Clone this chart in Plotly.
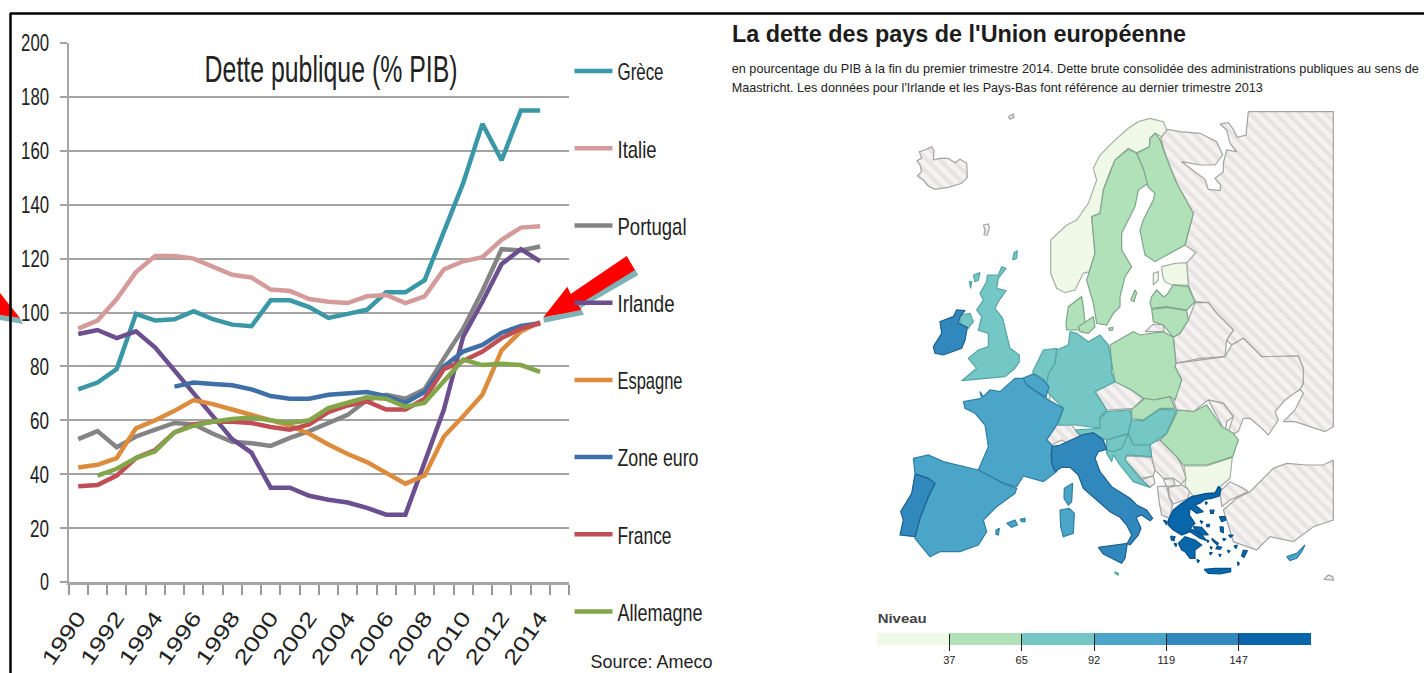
import json
import plotly.graph_objects as go

W, H = 1424, 673
YEARS = list(range(1990, 2015))
TICK_YEARS = list(range(1990, 2015, 2))
GRECE = [71.5,74,79,99.5,97,97.5,100.5,97.5,95.5,94.9,104.5,104.5,102,98,99.5,101,107.5,107.5,112,129.5,148,170,156.5,175,175]
ITALIE = [94,97,105,115,121,121,120,117,114,113,108.5,108,105,104,103.5,106,106.5,103.5,106,116,119,120.5,127,131.5,132]
PORTUGAL = [53,56,50,54,56.5,59,58.5,55,52,51.5,50.5,53.5,56,59,62,67.5,69.5,68,71.5,83,94,108,123.5,123,124.5]
IRLANDE = [92,93.5,90.5,93,87,78.5,70.5,62,53,48,35,35,32,30.5,29.5,27.5,25,25,44,64,91,104,118,123.5,119]
ESPAGNE = [42.5,43.5,46,57,60,63.5,67.5,66,64,62,60,58,55,51,47.5,44.5,40.5,36.5,39.5,54,61.5,69.5,86,93,96.5]
ZONE_EURO = [None]*5 + [72.5,74,73.5,73,71.5,69,68,68,69.5,70,70.5,69,66.5,70.5,80,85.5,88,92.5,95,96]
FRANCE = [35.5,36,39.5,46,49,55.5,58.5,59.5,59.5,59,57.5,56.5,58.5,63,65.5,67,64,64,68,79,82,85.5,90.5,94,96]
ALLEMAGNE = [None,39.5,42,46,48.5,55.5,58,59.5,60.5,61,60,59,60,64.5,66.5,68.5,68,65,66.5,74.5,82.5,80.5,81,80.5,78]

SERIES = [("Grèce",GRECE,"#3a97a6"),("Italie",ITALIE,"#d59b9b"),("Portugal",PORTUGAL,"#848484"),
          ("Irlande",IRLANDE,"#6b4f8e"),("Espagne",ESPAGNE,"#dd8b3c"),("Zone euro",ZONE_EURO,"#3e6fa6"),
          ("France",FRANCE,"#bf4f55"),("Allemagne",ALLEMAGNE,"#83a64a")]

# Map outlines, in map units
HATCHED = {
 "Jan Mayen":[(385,50),(400,42),(402,52),(390,58)],
 "Iceland":[(110,182),(125,175),(118,155),(135,150),(155,140),(162,152),(160,180),(180,175),(205,175),(225,188),(240,178),(260,190),(262,232),(245,250),(205,262),(165,268),(145,258),(130,240),(112,228),(125,215),(120,195)],
 "Faroe":[(310,375),(325,372),(328,385),(322,405),(312,405),(315,390)],
 "Russia":[(1105,35),(1098,105),(1072,112),(1058,85),(1045,68),(1020,72),(1040,90),(1050,130),(1070,155),(1040,150),(1030,190),(1030,215),(1005,235),(1022,255),(1020,272),(985,268),(975,238),(930,205),(905,185),(960,195),(1005,195),(1028,165),(1010,125),(960,100),(900,95),(862,88),(842,115),(860,175),(890,250),(940,340),(915,435),(948,458),(920,488),(925,555),(945,605),(985,608),(1010,640),(1060,690),(1040,720),(1055,735),(1090,715),(1145,770),(1255,768),(1270,805),(1270,850),(1260,868),(1270,880),(1245,930),(1210,965),(1245,965),(1335,995),(1360,980),(1360,35)],
 "Kaliningrad":[(795,695),(820,672),(850,675),(852,695)],
 "Belarus":[(880,712),(900,700),(925,660),(945,608),(985,608),(1010,640),(1060,690),(1040,720),(1035,770),(960,775),(888,790)],
 "Ukraine":[(885,790),(1035,770),(1055,735),(1090,715),(1145,770),(1255,768),(1270,805),(1270,850),(1260,868),(1215,900),(1185,935),(1195,960),(1165,1005),(1140,980),(1110,955),(1090,955),(1075,995),(1040,1010),(1060,950),(1030,910),(985,900),(940,935),(890,930),(880,900),(905,840),(885,800)],
 "Moldova":[(985,900),(1030,910),(1060,950),(1040,965),(1035,1008),(1025,975)],
 "Czechia":[(645,875),(705,845),(755,870),(790,895),(760,925),(680,930)],
 "Switzerland":[(500,1018),(530,975),(575,975),(600,1008),(570,1035),(545,1020),(515,1035)],
 "Bosnia":[(740,1068),(815,1072),(825,1110),(820,1128),(785,1135),(735,1080)],
 "Serbia":[(810,1030),(840,1020),(890,1070),(905,1095),(918,1135),(905,1152),(880,1135),(850,1135),(825,1110),(815,1072)],
 "Montenegro":[(785,1138),(820,1128),(825,1150),(810,1162)],
 "Kosovo":[(850,1138),(880,1135),(885,1155),(860,1160)],
 "Macedonia":[(865,1162),(905,1155),(928,1170),(925,1195),(880,1212),(868,1190)],
 "Albania":[(832,1160),(860,1158),(868,1195),(878,1215),(868,1255),(845,1245),(838,1210)],
 "Turkey Thrace":[(1050,1145),(1090,1165),(1105,1175),(1050,1200),(1025,1220),(1020,1175)],
 "Turkey":[(1360,1080),(1330,1095),(1280,1095),(1220,1090),(1180,1105),(1140,1145),(1110,1175),(1070,1195),(1030,1230),(1040,1260),(1060,1325),(1130,1350),(1170,1310),(1240,1325),(1300,1280),(1360,1260)],
 "Syria corner":[(1332,1438),(1345,1425),(1358,1430),(1360,1440)],
}
LEVEL_1 = {
 "Norway":[(640,205),(660,165),(700,125),(745,85),(775,65),(810,55),(850,65),(860,90),(845,110),(825,100),(810,115),(810,140),(770,158),(745,145),(705,180),(690,215),(670,270),(660,340),(635,350),(645,460),(628,515),(610,520),(585,570),(555,578),(530,565),(512,520),(512,420),(560,375),(590,360),(625,310),(650,240)],
 "Estonia":[(845,500),(885,490),(920,488),(925,555),(875,555),(855,545),(848,530)],
 "Saaremaa":[(820,520),(835,515),(835,540),(820,555)],
 "Bulgaria":[(912,1098),(980,1098),(1057,1072),(1050,1135),(1020,1160),(1010,1175),(940,1190),(915,1155),(918,1135)],
 "Luxembourg":[(498,880),(508,878),(510,897),(500,897)],
}
LEVEL_2 = {
 "Sweden":[(745,148),(770,160),(790,205),(805,250),(775,270),(765,320),(725,400),(725,450),(755,500),(735,530),(720,590),(720,620),(700,640),(680,675),(650,670),(640,610),(620,540),(628,515),(645,460),(635,350),(660,340),(670,270),(690,215),(705,180)],
 "Gotland":[(752,600),(765,570),(770,578),(762,605)],
 "Finland":[(808,140),(810,115),(825,100),(838,115),(860,175),(890,250),(940,340),(915,435),(825,485),(795,465),(780,390),(790,360),(820,300),(825,280),(805,262),(790,205),(770,160)],
 "Latvia":[(815,590),(830,570),(850,590),(860,585),(880,555),(925,560),(945,605),(920,630),(860,620),(815,625),(810,610)],
 "Lithuania":[(815,628),(860,622),(920,632),(925,660),(900,700),(880,712),(850,675),(820,665)],
 "Denmark":[(558,670),(565,620),(605,590),(610,620),(615,670),(600,690),(560,690)],
 "Zealand":[(595,680),(640,650),(645,680),(625,700),(600,695)],
 "Bornholm":[(685,685),(698,682),(698,690),(690,692)],
 "Poland":[(690,735),(760,695),(780,705),(850,695),(880,712),(888,790),(885,800),(905,840),(885,900),(870,890),(820,900),(790,895),(755,870),(705,845),(695,790)],
 "Slovakia":[(755,928),(795,895),(825,900),(870,890),(885,925),(840,925),(790,960),(755,955)],
 "Romania":[(895,930),(940,935),(980,915),(1025,980),(1060,1000),(1075,1020),(1058,1070),(980,1095),(910,1095),(890,1070),(840,1020),(860,1000)],
}
LEVEL_3 = {
 "Shetland":[(398,480),(402,458),(412,452),(410,475)],
 "Hebrides":[(280,525),(300,518),(295,540),(285,545)],
 "Lewis":[(268,545),(275,545),(272,565)],
 "Great Britain":[(322,525),(355,525),(365,500),(378,505),(355,535),(350,565),(378,572),(355,605),(345,625),(368,655),(390,745),(418,765),(418,785),(405,805),(375,830),(310,835),(245,842),(290,805),(265,775),(295,750),(325,740),(325,700),(295,690),(305,650),(290,630),(310,600),(300,580),(320,545)],
 "Northern Ireland":[(240,645),(270,640),(280,665),(265,685),(240,670)],
 "Germany":[(570,695),(590,700),(625,725),(660,705),(685,735),(695,790),(695,820),(705,845),(645,875),(680,930),(660,950),(665,985),(585,975),(535,975),(550,925),(510,885),(498,865),(505,820),(525,790),(530,750),(565,735)],
 "Netherlands":[(458,815),(490,750),(530,745),(525,790),(505,822),(498,860),(490,835),(460,820)],
 "Austria":[(585,990),(660,985),(660,955),(680,935),(750,930),(755,955),(745,1000),(680,1020),(640,1000),(600,1005)],
 "Hungary":[(755,960),(790,962),(840,928),(890,930),(860,1000),(810,1035),(760,1035),(745,1000)],
 "Croatia":[(680,1020),(745,1002),(760,1035),(810,1035),(815,1070),(740,1065),(735,1080),(780,1135),(810,1162),(760,1145),(720,1095),(700,1065),(695,1085),(680,1060)],
 "Slovenia":[(680,1020),(745,1002),(725,1045),(700,1055),(680,1050)],
 "Malta":[(705,1415),(715,1420),(715,1426),(705,1420)],
}
LEVEL_4 = {
 "Belgium":[(428,835),(460,822),(490,840),(507,860),(497,892),(460,868),(440,855)],
 "France":[(250,905),(305,895),(300,875),(310,890),(330,870),(360,875),(405,835),(430,835),(440,855),(497,895),(550,925),(530,975),(500,1020),(520,1040),(510,1070),(530,1115),(490,1145),(430,1128),(410,1160),(370,1150),(295,1110),(325,1040),(315,975),(285,940),(255,925)],
 "Corsica":[(553,1165),(578,1150),(575,1205),(565,1215),(552,1195)],
 "Spain":[(100,1075),(145,1065),(190,1085),(295,1110),(370,1150),(410,1165),(405,1180),(350,1220),(310,1260),(320,1295),(295,1335),(240,1355),(180,1355),(150,1370),(125,1340),(105,1315),(120,1250),(145,1190),(165,1150),(145,1135),(105,1120)],
 "Majorca":[(380,1270),(405,1260),(412,1275),(395,1282)],
 "Minorca":[(420,1258),(435,1255),(435,1265),(425,1265)],
 "Ibiza":[(348,1290),(358,1285),(355,1305),(348,1303)],
 "Sardinia":[(540,1230),(568,1225),(583,1240),(580,1300),(550,1310),(542,1280)],
 "Cyprus":[(1220,1370),(1250,1360),(1275,1335),(1265,1355),(1250,1375),(1230,1382)],
}
LEVEL_5 = {
 "Ireland":[(160,740),(185,700),(180,665),(220,650),(230,630),(255,632),(240,650),(235,670),(262,682),(255,720),(245,745),(190,765),(165,760)],
 "Portugal":[(105,1122),(145,1135),(165,1150),(145,1190),(120,1255),(105,1310),(60,1305),(70,1260),(62,1235),(95,1180)],
 "Italy":[(515,1040),(540,1035),(585,1015),(605,1005),(640,998),(670,1020),(680,1048),(655,1055),(645,1075),(660,1115),(695,1160),(750,1195),(770,1215),(800,1230),(818,1255),(810,1262),(785,1245),(768,1252),(783,1285),(775,1305),(750,1335),(742,1330),(755,1305),(740,1275),(720,1252),(690,1235),(650,1200),(610,1165),(595,1125),(570,1102),(545,1102),(525,1115),(515,1090)],
 "Sicily":[(655,1342),(680,1338),(742,1330),(735,1375),(725,1390),(695,1375),(670,1362)],
}
LEVEL_6 = {
 "Greece":[(865,1260),(880,1230),(905,1210),(935,1190),(980,1180),(1005,1180),(1015,1160),(1023,1165),(1018,1188),(995,1195),(975,1198),(960,1210),(945,1215),(970,1235),(950,1240),(930,1225),(928,1245),(945,1270),(930,1285),(965,1305),(980,1322),(960,1315),(930,1295),(905,1305),(880,1290),(865,1275)],
 "Euboea":[(940,1280),(965,1282),(985,1305),(970,1305),(945,1290)],
 "Peloponnese":[(895,1330),(915,1310),(945,1320),(965,1335),(945,1350),(945,1375),(930,1375),(915,1355),(905,1350)],
 "Crete":[(972,1408),(1005,1405),(1052,1405),(1052,1415),(1020,1422),(985,1420)],
 "Thasos":[(975,1205),(982,1208),(978,1214)],
 "Limnos":[(990,1230),(1002,1230),(1000,1240),(992,1240)],
 "Lesbos":[(1018,1250),(1035,1250),(1038,1260),(1025,1265)],
 "Chios":[(1020,1280),(1030,1282),(1030,1298),(1022,1295)],
 "Samos":[(1045,1305),(1060,1305),(1052,1312)],
 "Ikaria":[(1028,1315),(1038,1317),(1032,1322)],
 "Skiathos":[(960,1262),(968,1265),(965,1270)],
 "Skyros":[(980,1273),(988,1273),(988,1280),(980,1280)],
 "Rhodes":[(1090,1350),(1102,1352),(1092,1372),(1085,1368)],
 "Karpathos":[(1072,1385),(1078,1390),(1074,1397)],
 "Naxos":[(1012,1338),(1025,1342),(1020,1348),(1008,1346)],
 "Sifnos":[(990,1340),(996,1342),(994,1348)],
 "Milos":[(988,1358),(996,1358),(992,1365)],
 "Santorini":[(1016,1362),(1023,1364),(1020,1370)],
 "Kos":[(1042,1350),(1050,1353),(1046,1358)],
 "Leros":[(1062,1338),(1072,1335),(1068,1345)],
 "Andros":[(995,1315),(1015,1330),(1012,1335),(998,1322)],
 "Kea":[(980,1320),(986,1322),(984,1328)],
 "Kefalonia":[(872,1308),(885,1310),(882,1322),(874,1320)],
 "Zakynthos":[(882,1330),(890,1332),(888,1340)],
 "Kythira":[(950,1378),(958,1382),(954,1388)],
 "Corfu":[(850,1260),(862,1265),(860,1275)],
}
MAP_LAYERS = [(HATCHED,None,"#a3a3a3"),(LEVEL_1,"#f0f9e8","#a3b0a3"),(LEVEL_2,"#b1e1b9","#7fa489"),
              (LEVEL_3,"#74c7c4","#56a5a5"),(LEVEL_4,"#4ba5c9","#2f7fa3"),(LEVEL_5,"#3188bd","#1d5f8f"),
              (LEVEL_6,"#0a66ab","#04508a")]

SCALE_COLORS = ["#f0f9e8","#b1e1b9","#74c7c4","#4ba5c9","#3188bd","#0a66ab"]
SCALE_LABELS = ["37","65","92","119","147"]

# Drawn text widths (the source chart was stretched: tall, narrow lettering)
LINE1 = "en pourcentage du PIB à la fin du premier trimestre 2014. Dette brute consolidée des administrations publiques au sens de"
LINE2 = "Maastricht. Les données pour l'Irlande et les Pays-Bas font référence au dernier trimestre 2013"
TEXT_WIDTHS = {"Grèce":46,"Italie":39,"Portugal":69,"Irlande":57,"Espagne":65,"Zone euro":81,"France":54,"Allemagne":85,
               "Dette publique (% PIB)":253,"Source: Ameco":122,LINE1:687,LINE2:531,"Niveau":49,
               "La dette des pays de l'Union européenne":454,"0":9}
TEXT_WIDTHS.update({str(v):19 for v in (20,40,60,80)})
TEXT_WIDTHS.update({str(v):28 for v in (100,120,140,160,180,200)})
TEXT_WIDTHS.update({str(v):60 for v in TICK_YEARS})

SANS = "Liberation Sans"
def px(x): return x / W
def py(y): return 1 - y / H

fig = go.Figure()
for name, vals, col in SERIES:
    fig.add_trace(go.Scatter(x=YEARS, y=vals, name=name, mode="lines", legendgroup=name,
                             line=dict(color=col, width=4.5)))

for outlines, fill, edge in MAP_LAYERS:
    for name, pts in outlines.items():
        kw = dict(fillcolor=fill) if fill else dict(
            fillcolor="#f5f2f2",
            fillpattern=dict(shape="\\", size=9, solidity=0.45, fgcolor="#dbd3d3", bgcolor="#f5f2f2"))
        xs = [p[0] for p in pts] + [pts[0][0]]
        ys = [p[1] for p in pts] + [pts[0][1]]
        fig.add_trace(go.Scatter(x=xs, y=ys, xaxis="x2", yaxis="y2", mode="lines", fill="toself",
                                 line=dict(color=edge, width=1.2), showlegend=False, hoverinfo="text", text=name, **kw))

for c in SCALE_COLORS:
    fig.add_trace(go.Bar(x=[1], y=[0], orientation="h", xaxis="x3", yaxis="y3", width=1,
                         marker=dict(color=c, line=dict(width=0)), showlegend=False))

def poly(pts, color):
    path = "M " + " L ".join(f"{px(x):.5f},{py(y):.5f}" for x, y in pts) + " Z"
    return dict(type="path", xref="paper", yref="paper", path=path, fillcolor=color, line=dict(width=0), layer="above")

z2 = lambda x, y: (360 + x / 3, 220 + y / 3)
arrow_teal = [z2(*p) for p in [(552,308),(672,284),(662,265),(835,165),(825,148),(655,255),(665,270),(550,292)]]
arrow_red = [z2(*p) for p in [(550,292),(622,200),(632,222),(800,108),(825,150),(655,255),(665,270)]]
shapes = [poly(arrow_teal, "#7fb3b5"), poly(arrow_red, "#ff0000"),
          poly([(0,315),(20,318),(23,324),(0,320)], "#7fb3b5"), poly([(0,293),(20,318),(0,315)], "#ff0000"),
          dict(type="line", xref="paper", yref="paper", x0=px(10.5), x1=px(10.5), y0=0, y1=py(13), line=dict(color="#000", width=2.5)),
          dict(type="line", xref="paper", yref="paper", x0=px(10), x1=1, y0=py(13.5), y1=py(13.5), line=dict(color="#000", width=2.5))]

def note(text, x, y, size, color="#222", bold=False):
    return dict(text=f"<b>{text}</b>" if bold else text, xref="paper", yref="paper", x=px(x), y=py(y), xanchor="center",
                yanchor="middle", showarrow=False, font=dict(size=size, family=SANS, color=color))

annotations = [
    note("Dette publique (% PIB)", 331, 70, 36),
    note("Source: Ameco", 651, 661, 19),
    note("La dette des pays de l'Union européenne", 959, 34, 23.4, "#1c1c1c", bold=True),
    note(LINE1, 1075.5, 69, 12.2),
    note(LINE2, 997.5, 88, 12.2),
    note("Niveau", 901.5, 618, 13.5, "#444", bold=True),
]

fig.update_layout(
    width=W, height=H, margin=dict(l=0, r=0, t=0, b=0, autoexpand=False), paper_bgcolor="#fff", plot_bgcolor="rgba(0,0,0,0)",
    barmode="stack", shapes=shapes, annotations=annotations, font=dict(family=SANS, color="#222"),
    legend=dict(x=px(569.5), y=py(49), xanchor="left", yanchor="top", traceorder="grouped", tracegroupgap=43,
                font=dict(size=24, family=SANS, color="#222"), itemwidth=38, bgcolor="rgba(0,0,0,0)"),
    xaxis=dict(domain=[px(68.6), px(569)], range=[1989.5, 2015.5], tickvals=TICK_YEARS, tickangle=-55,
               showgrid=False, zeroline=False, showline=True, linecolor="#a6a6a6", linewidth=3,
               tickfont=dict(size=21, family=SANS, color="#222"), ticks="", ticklabelstandoff=12,
               minor=dict(ticks="outside", tick0=1989.5, dtick=1, ticklen=10, tickcolor="#999", tickwidth=1.5, showgrid=False)),
    yaxis=dict(domain=[py(582), py(43)], range=[0, 200], dtick=20, showgrid=True, gridcolor="#a3a3a3", gridwidth=2,
               zeroline=False, showline=True, linecolor="#a6a6a6", linewidth=1.5, ticks="outside", ticklen=7, tickcolor="#a3a3a3",
               tickwidth=2, ticklabelstandoff=6, tickfont=dict(size=24, family=SANS, color="#222")),
    xaxis2=dict(domain=[px(880), px(1340)], range=[0, 1380], visible=False, anchor="y2"),
    yaxis2=dict(domain=[0, py(100)], range=[1719, 0], visible=False, anchor="x2"),
    xaxis3=dict(domain=[px(877), px(1311)], range=[0, 6], tickvals=[1,2,3,4,5], ticktext=SCALE_LABELS, anchor="free",
                position=py(633), showgrid=False, zeroline=False, showline=False, ticks="outside", ticklen=17, tickcolor="#222",
                tickwidth=1, layer="above traces", tickfont=dict(size=11, family=SANS, color="#222"), side="bottom"),
    yaxis3=dict(domain=[py(645), py(633)], range=[-0.5, 0.5], visible=False, anchor="x3"),
)

post = """
document.body.style.margin='0';document.body.style.overflow='hidden';
var TW=%s;
function fit(){document.querySelectorAll('.main-svg text').forEach(function(t){
  var w=TW[t.textContent]; if(w){t.setAttribute('textLength',w);t.setAttribute('lengthAdjust','spacingAndGlyphs');}
});}
fit();setTimeout(fit,50);setTimeout(fit,300);
""" % json.dumps(TEXT_WIDTHS)
fig.write_html("out.html", post_script=post, config={"displayModeBar": False})
